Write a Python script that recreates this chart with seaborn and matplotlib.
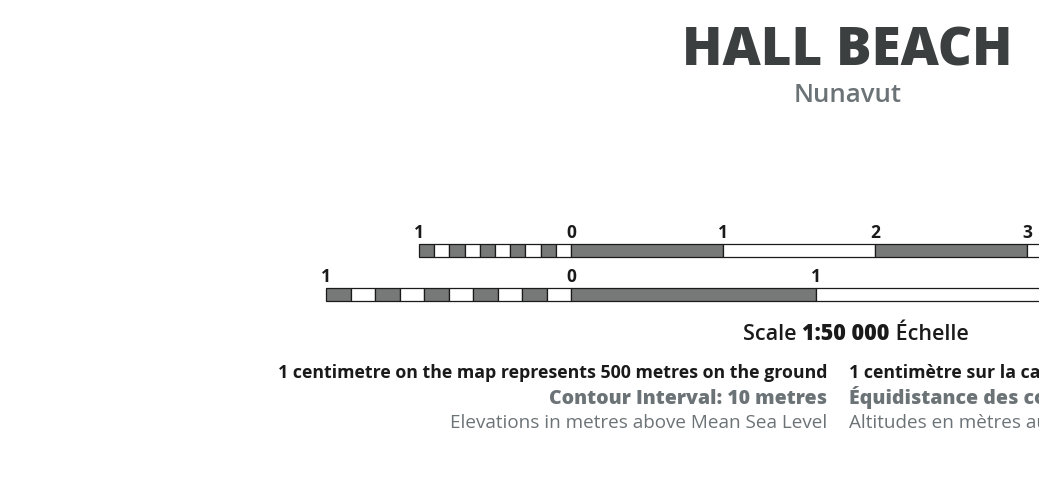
import numpy as np
import matplotlib
matplotlib.use("Agg")
import matplotlib.pyplot as plt
import seaborn as sns

# scale bar data (km bar and mile bar)
km_edges = [-1.0, -0.9, -0.8, -0.7, -0.6, -0.5, -0.4, -0.3, -0.2, -0.1, 0.0, 1.0, 2.0, 3.0, 4.0]
km_label_pos = [-1, 0, 1, 2, 3]
km_labels = ["1", "0", "1", "2", "3"]

mile_edges = [-1.0, -0.9, -0.8, -0.7, -0.6, -0.5, -0.4, -0.3, -0.2, -0.1, 0.0, 1.0, 2.0]
mile_label_pos = [-1, 0, 1]
mile_labels = ["1", "0", "1"]
KM_PER_MILE = 1.609344

title = "HALL BEACH"
subtitle = "Nunavut"
english_lines = ["1 centimetre on the map represents 500 metres on the ground",
                 "Contour Interval: 10 metres",
                 "Elevations in metres above Mean Sea Level"]
french_lines = ["1 centimètre sur la carte représente 500 mètres sur le terrain",
                "Équidistance des courbes: 10 mètres",
                "Altitudes en mètres au-dessus du niveau moyen de la mer"]

sns.set_style("white")
plt.rcParams['font.family'] = ['Open Sans', 'DejaVu Sans']

W, H = 1039, 485
fig = plt.figure(figsize=(W / 100, H / 100), dpi=100)
ax = fig.add_axes([0, 0, 1, 1])
# x in km: 0 sits at pixel 571, 1 km = 152 px; y in pixels from the top
ax.set_xlim(-571 / 152, (W - 571) / 152)
ax.set_ylim(H, 0)
ax.axis('off')

gray = '#777878'


def draw_bar(edges, y_top, height, labels, label_pos, label_y, factor=1.0):
    left = np.array(edges[:-1]) * factor
    width = np.diff(edges) * factor
    colors = [gray if i % 2 == 0 else 'white' for i in range(len(left))]
    ax.barh(y_top + height / 2, width, left=left, height=height, color=colors,
            edgecolor='#1a1a1a', linewidth=0.9, align='center')
    for p, lab in zip(label_pos, labels):
        ax.text(p * factor, label_y, lab, ha='center', va='baseline',
                fontsize=12.5, fontweight='bold', color='#1a1a1a')


draw_bar(km_edges, 244.5, 13, km_labels, km_label_pos, 238.5)
draw_bar(mile_edges, 288.5, 13, mile_labels, mile_label_pos, 282.5, KM_PER_MILE)


def ft(x, y, s, **kw):
    return fig.text(x / W, 1 - y / H, s, va='baseline', **kw)


ft(847, 66, title, ha='center', fontsize=38, fontweight='heavy', color='#3c3f40')
ft(848, 102, subtitle, ha='center', fontsize=18.5, fontweight='semibold', color='#6c7377')

# scale line in three pieces, centred as a whole
fig.canvas.draw()
r = fig.canvas.get_renderer()
parts = [("Scale ", 'semibold'), ("1:50 000", 'heavy'), (" Échelle", 'semibold')]
texts = [ft(0, 340, s, fontsize=15.5, fontweight=w, color='#1a1a1a') for s, w in parts]
widths = [t.get_window_extent(r).width for t in texts]
x = 856 - sum(widths) / 2
for t, w in zip(texts, widths):
    t.set_x(x / W)
    x += w

ys = [378, 404, 428]
sizes = [12.8, 14, 13.6]
styles = [dict(fontweight='bold', color='#1a1a1a'),
          dict(fontweight='heavy', color='#6c7377'),
          dict(fontweight='normal', color='#6c7377')]
for y, e, f, fs, st in zip(ys, english_lines, french_lines, sizes, styles):
    ft(827, y, e, ha='right', fontsize=fs, **st)
    ft(849, y, f, ha='left', fontsize=fs, **st)

fig.savefig('out.png', dpi=100)
